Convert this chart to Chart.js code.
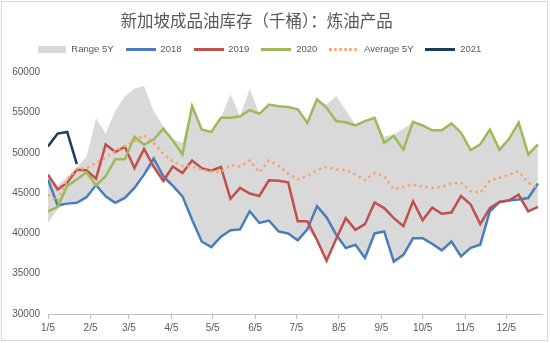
<!DOCTYPE html>
<html><head><meta charset="utf-8">
<script src="https://cdn.jsdelivr.net/npm/chart.js@4/dist/chart.umd.min.js"></script>
<style>html,body{margin:0;padding:0;background:#fff}#wrap{width:550px;height:343px}</style>
</head><body><div id="wrap"><canvas id="c" width="550" height="343"></canvas></div>
<script>
const chartTitle = '新加坡成品油库存（千桶）：炼油产品';
const weeks = ['1/5','1/12','1/19','1/26','2/2','2/9','2/16','2/23','3/2','3/9','3/16','3/23','3/30',
  '4/6','4/13','4/20','4/27','5/4','5/11','5/18','5/25','6/1','6/8','6/15','6/22','6/29',
  '7/6','7/13','7/20','7/27','8/3','8/10','8/17','8/24','8/31','9/7','9/14','9/21','9/28',
  '10/5','10/12','10/19','10/26','11/2','11/9','11/16','11/23','11/30','12/7','12/14','12/21','12/28'];
const tickLabels = ['1/5','2/5','3/5','4/5','5/5','6/5','7/5','8/5','9/5','10/5','11/5','12/5'];
const yTicks = [30000,35000,40000,45000,50000,55000,60000];

const range5yLow = [41300,43000,43800,43900,44600,45900,44600,43800,44400,45650,47300,48300,46500,45900,44600,41700,39000,38300,39600,40400,40500,42750,41300,41600,40250,40000,
  39150,40500,39200,36600,39300,38200,38600,36950,40000,40250,36500,37350,39400,39400,38700,37900,39000,37150,38200,38600,42750,43900,44100,44200,42750,43300];
const range5yHigh = [47300,46000,47000,48200,49500,54300,52400,55200,57000,58000,58300,55200,53300,51700,51250,55800,52900,52600,54350,57250,54550,57950,54900,56000,55800,55700,
  55400,53750,56650,56000,57050,55300,53500,54000,54350,52000,52300,53000,53850,53400,52800,52800,53650,52500,50400,51050,52900,50400,51750,53750,49800,51050];
const s2018 = [46700,43500,43700,43800,44500,46000,44600,43800,44400,45650,47300,49300,47100,45900,44600,41700,39000,38300,39600,40400,40500,42750,41300,41600,40250,40000,
  39150,40500,43400,42000,39850,38200,38600,36950,40000,40250,36500,37350,39400,39400,38700,37900,39000,37150,38200,38600,42750,43900,44100,44200,44400,46200];
const s2019 = [47300,45450,46300,47900,47850,46800,51050,50100,50750,48100,50500,48300,46500,48300,47500,49050,48100,47800,48250,44300,45650,44950,44650,46600,46550,46350,
  41500,41500,39200,36600,39300,41900,40450,41150,43850,43150,41900,40900,44000,41650,43200,42450,42600,44650,43600,41150,43150,43900,44100,44800,42750,43300];
const s2020 = [42750,43300,45900,46700,47600,45950,47100,49200,49200,52000,51000,51650,53000,51550,49800,55800,52900,52600,54350,54350,54550,55300,54850,56000,55800,55700,
  55400,53750,56650,55600,53950,53800,53400,53950,54350,51250,52100,50400,53850,53400,52800,52800,53650,52500,50350,51050,52900,50400,51750,53750,49800,51050];
const avg5y = [44800,44000,46700,48000,48100,48750,49400,50200,50850,51450,52200,51200,49900,48950,48350,48300,47900,47700,47600,48500,48300,49050,47600,49050,48400,47400,
  46700,47100,47850,48250,47950,47850,47300,46600,47500,47100,45500,45800,46050,45800,45650,45800,46200,46300,45250,45050,46600,46900,47300,47700,46300,45650];
const s2021 = [50800,52400,52600,48600];

function dayOf(md){const p=md.split('/').map(Number);return Math.round((Date.UTC(2021,p[0]-1,p[1])-Date.UTC(2021,0,5))/864e5);}
const xs = weeks.map(dayOf);
const tickDays = tickLabels.map(dayOf);
const pts = arr => arr.map((v,i)=>({x:xs[i],y:v}));

const C_RANGE='#d9d9d9', C18='#4a7ebb', C19='#c0504d', C20='#9bbb59', CAVG='#f4a46c', C21='#1f3a5f';
function swatch(w,h,draw){const c=document.createElement('canvas');c.width=w;c.height=h;draw(c.getContext('2d'),w,h);return c;}
const lineSw = col => swatch(30,3,(g,w,h)=>{g.fillStyle=col;g.fillRect(0,0,w,h);});
const swatches = {
  1: swatch(28,7,(g,w,h)=>{g.fillStyle=C_RANGE;g.fillRect(0,0,w,h);}),
  2: lineSw(C18), 3: lineSw(C19), 4: lineSw(C20),
  5: swatch(30,3,(g,w,h)=>{g.fillStyle=CAVG;for(let x=0;x<w;x+=5)g.fillRect(x,0,2.5,h);}),
  6: lineSw(C21)
};

const lineDs = (label,data,col,order,extra) => Object.assign({label,data:pts(data),borderColor:col,backgroundColor:col,borderWidth:2.5,pointRadius:0,tension:0,fill:false,order},extra||{});

const plugins = [{
  id:'bgborder',
  beforeDraw(chart){const g=chart.ctx;g.save();g.fillStyle='#fff';g.fillRect(0,0,chart.width,chart.height);
    g.strokeStyle='#d9d9d9';g.lineWidth=1;g.strokeRect(1.5,1.5,546,339);g.restore();}
},{
  id:'shift',
  afterLayout(chart){ if(chart.titleBlock) chart.titleBlock.right -= 29; if(chart.legend) chart.legend.right -= 24; }
}];

new Chart(document.getElementById('c'),{
  type:'line',
  data:{datasets:[
    {label:'low',data:pts(range5yLow),borderColor:'rgba(0,0,0,0)',backgroundColor:'rgba(0,0,0,0)',borderWidth:0,pointRadius:0,fill:false,order:20},
    {label:'Range 5Y',data:pts(range5yHigh),borderColor:'rgba(0,0,0,0)',backgroundColor:C_RANGE,borderWidth:0,pointRadius:0,fill:'-1',order:19},
    lineDs('2018',s2018,C18,5),
    lineDs('2019',s2019,C19,4),
    lineDs('2020',s2020,C20,3),
    lineDs('Average 5Y',avg5y,CAVG,2,{borderDash:[2.5,3.5]}),
    lineDs('2021',s2021,C21,1)
  ]},
  options:{
    responsive:false, animation:false, devicePixelRatio:1,
    layout:{padding:{left:0,right:8,top:0,bottom:6}},
    plugins:{
      title:{display:true,text:chartTitle,color:'#595959',font:{family:"'Noto Sans CJK SC', sans-serif",size:16.5,weight:'normal'},padding:{top:11,bottom:2}},
      subtitle:{display:true,text:'',font:{size:1,lineHeight:1},padding:{top:0,bottom:7},weight:500},
      legend:{display:true,position:'top',
        labels:{usePointStyle:true,pointStyleWidth:30,padding:12,color:'#595959',
          font:{family:"'Liberation Sans', sans-serif",size:9.5},
          filter:item=>item.datasetIndex!==0,
          sort:(a,b)=>a.datasetIndex-b.datasetIndex,
          generateLabels(chart){const items=Chart.defaults.plugins.legend.labels.generateLabels(chart);
            items.forEach(it=>{it.pointStyle=swatches[it.datasetIndex];});return items;}
        }},
      tooltip:{enabled:false}
    },
    scales:{
      x:{type:'linear',min:0,max:360,
        afterBuildTicks:s=>{s.ticks=tickDays.map(v=>({value:v}));},
        ticks:{callback:(v,i)=>tickLabels[i],color:'#595959',font:{family:"'Liberation Sans', sans-serif",size:10},padding:3,maxRotation:0,autoSkip:false},
        grid:{display:true,drawOnChartArea:false,drawTicks:true,tickLength:5,color:'#bfbfbf'},
        border:{display:true,color:'#bfbfbf'}},
      y:{min:30000,max:60000,
        afterBuildTicks:s=>{s.ticks=yTicks.map(v=>({value:v}));},
        ticks:{callback:v=>String(v),color:'#595959',font:{family:"'Liberation Sans', sans-serif",size:10},padding:8},
        grid:{display:false,drawTicks:false},border:{display:false},
        afterFit:s=>{s.width=48;}}
    }
  },
  plugins
});
</script></body></html>
